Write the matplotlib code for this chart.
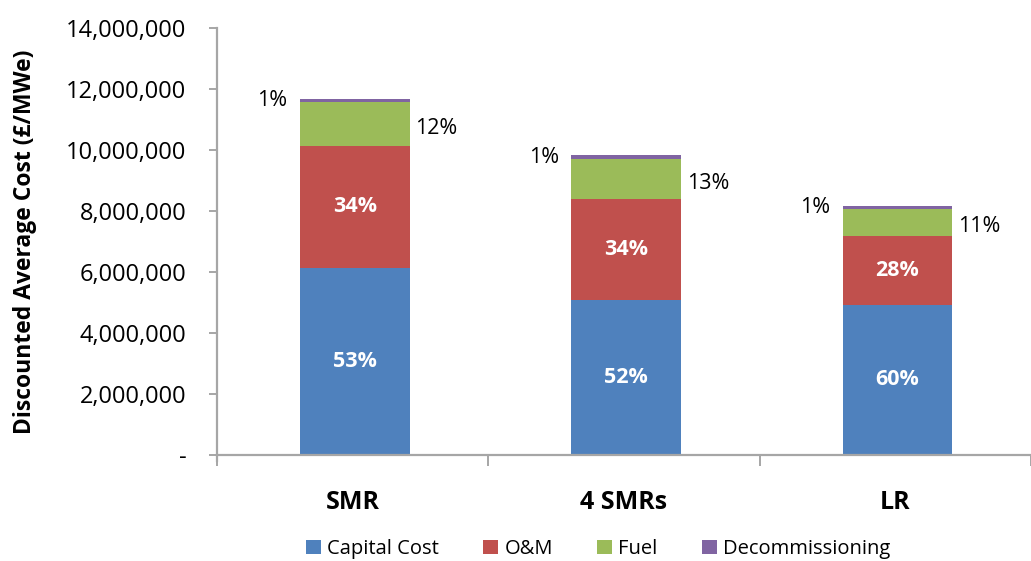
import matplotlib
matplotlib.use("Agg")
import matplotlib.pyplot as plt
from matplotlib.ticker import FuncFormatter, FixedLocator
import numpy as np

plt.rcParams["font.family"] = ["Open Sans", "DejaVu Sans"]

categories = ["SMR", "4 SMRs", "LR"]
series_names = ["Capital Cost", "O&M", "Fuel", "Decommissioning"]
capital = [6.14e6, 5.08e6, 4.92e6]
om = [3.99e6, 3.32e6, 2.27e6]
fuel = [1.43e6, 1.30e6, 0.87e6]
decom = [0.11e6, 0.13e6, 0.12e6]
capital_pct = ["53%", "52%", "60%"]
om_pct = ["34%", "34%", "28%"]
fuel_pct = ["12%", "13%", "11%"]
decom_pct = ["1%", "1%", "1%"]
yticks = [0, 2e6, 4e6, 6e6, 8e6, 10e6, 12e6, 14e6]

colors = ["#4F81BD", "#C0504D", "#9BBB59", "#8064A2"]
axis_grey = "#A6A6A6"

W, H = 1031, 561
fig = plt.figure(figsize=(W / 100, H / 100), dpi=100)
ax = fig.add_axes([217 / W, 1 - 455 / H, (W - 217) / W, (455 - 28) / H])

x = np.arange(len(categories))
width = 0.405
bottom = np.zeros(len(categories))
bars = []
for vals, col, name in zip([capital, om, fuel, decom], colors, series_names):
    ax.bar(x + 0.008, vals, width, bottom=bottom, color=col, label=name,
           edgecolor="none", zorder=2)
    bars.append((np.array(vals), bottom.copy()))
    bottom = bottom + np.array(vals)

ax.set_xlim(-0.5, (W - 355) / 274)
ax.set_ylim(0, 14e6)

# Percentage labels: white inside the two large segments
for (vals, base), labels in zip(bars[:2], [capital_pct, om_pct]):
    for xi, v, b0, t in zip(x, vals, base, labels):
        ax.text(xi + 0.008, b0 + v / 2, t, color="white", fontsize=15.5,
                fontweight="bold", ha="center", va="center", zorder=3)

# Fuel share to the right of each bar
vals, base = bars[2]
for xi, v, b0, t in zip(x, vals, base, fuel_pct):
    ax.annotate(t, (xi + 0.008 + width / 2, b0 + v / 2), xytext=(4, -3),
                textcoords="offset points", ha="left", va="center",
                fontsize=15.5, color="black")

# Decommissioning share to the left of each bar
vals, base = bars[3]
for xi, v, b0, t in zip(x, vals, base, decom_pct):
    ax.annotate(t, (xi + 0.008 - width / 2, b0 + v / 2), xytext=(-9, 0),
                textcoords="offset points", ha="right", va="center",
                fontsize=15.5, color="black")

# Axes styling
for s in ["top", "right"]:
    ax.spines[s].set_visible(False)
for s in ["left", "bottom"]:
    ax.spines[s].set_color(axis_grey)
    ax.spines[s].set_linewidth(1.6)
ax.spines["left"].set_bounds(-0.015e6 * 14, 14e6)
ax.set_clip_on(False)

ax.yaxis.set_major_locator(FixedLocator(yticks))
ax.yaxis.set_major_formatter(FuncFormatter(
    lambda v, p: "-" if v == 0 else f"{int(v):,}"))
ax.tick_params(axis="y", direction="out", length=6, width=1.4,
               color=axis_grey, labelsize=17, pad=16, labelcolor="black")

ax.set_xticks(x)
ax.set_xticklabels(categories, fontsize=18, fontweight="bold")
ax.set_xticks(np.arange(-0.5, len(categories), 1.0), minor=True)
ax.tick_params(axis="x", which="major", length=0, pad=25)
ax.tick_params(axis="x", which="minor", direction="out", length=8,
               width=1.4, color=axis_grey)

ax.set_ylabel("Discounted Average Cost (£/MWe)", fontsize=16.5,
              fontweight="bold")
ax.yaxis.set_label_coords(-180 / (W - 217), 0.5)

handles, labels = ax.get_legend_handles_labels()
fig.legend(handles, labels, loc="center", bbox_to_anchor=(598 / W, 1 - 549 / H),
           ncol=4, frameon=False, fontsize=14.5, handlelength=0.75,
           handleheight=0.75, handletextpad=0.3, columnspacing=2.2)

fig.savefig("out.png", dpi=100)
